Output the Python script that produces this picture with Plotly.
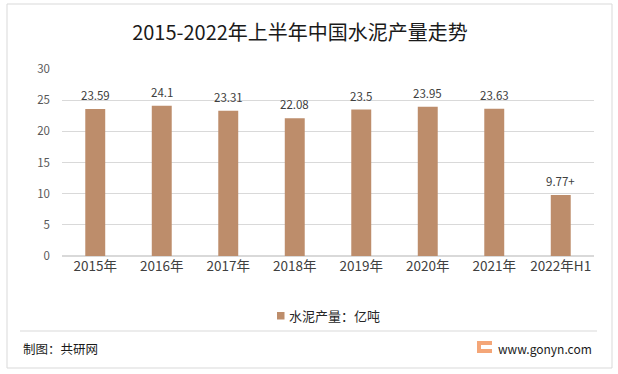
import plotly.graph_objects as go

categories = ["2015年", "2016年", "2017年", "2018年", "2019年", "2020年", "2021年", "2022年H1"]
values = [23.59, 24.1, 23.31, 22.08, 23.5, 23.95, 23.63, 9.77]
labels = ["23.59", "24.1", "23.31", "22.08", "23.5", "23.95", "23.63", "9.77+"]
series_name = "水泥产量：亿吨"
yticks = [0, 5, 10, 15, 20, 25, 30]

W, H = 618, 374
L, R, T, B = 62, 24, 69, 118
PW, PH = W - L - R, H - T - B
FONT = "Noto Sans CJK SC, sans-serif"
BAR = "#BD8D6B"


def px(x):
    return (x - L) / PW


def py(y):
    return (H - B - y) / PH


fig = go.Figure()
fig.add_trace(go.Bar(
    x=categories, y=values, name=series_name,
    marker=dict(color=BAR, line=dict(width=0)),
    width=0.3, showlegend=False,
))

for c, v, lab in zip(categories, values, labels):
    fig.add_annotation(x=c, y=v, text=lab, yshift=14, showarrow=False,
                       xanchor="center", yanchor="middle",
                       font=dict(size=11.5, color="#404040", family=FONT))

fig.update_layout(
    width=W, height=H,
    margin=dict(l=L, r=R, t=T, b=B),
    paper_bgcolor="white", plot_bgcolor="white",
    font=dict(family=FONT, color="#595959"),
    title=dict(text="2015-2022年上半年中国水泥产量走势", x=300 / W, xanchor="center",
               y=1 - 33 / H, yanchor="middle",
               font=dict(size=20, color="#1a1a1a", family=FONT)),
    showlegend=False,
    xaxis=dict(showgrid=False, showline=False, ticks="",
               tickfont=dict(size=13.5, color="#404040", family=FONT)),
    yaxis=dict(range=[0, 30], tickvals=yticks, showgrid=True, gridcolor="#D9D9D9",
               gridwidth=1, zeroline=True, zerolinecolor="#D9D9D9", showline=False,
               ticks="", ticklabelstandoff=11,
               tickfont=dict(size=11.5, color="#595959", family=FONT)),
)

# outer border
fig.add_shape(type="rect", xref="paper", yref="paper",
              x0=px(7), x1=px(612), y0=py(368), y1=py(4),
              line=dict(color="#D9D9D9", width=1), fillcolor="rgba(0,0,0,0)", layer="below")
# separator line
fig.add_shape(type="line", xref="paper", yref="paper",
              x0=px(20), x1=px(597), y0=py(331), y1=py(331),
              line=dict(color="#D9D9D9", width=1))

# legend (custom)
fig.add_shape(type="rect", xref="paper", yref="paper",
              x0=px(277), x1=px(284.5), y0=py(319.5), y1=py(312),
              line=dict(width=0), fillcolor=BAR)
fig.add_annotation(text=series_name, xref="paper", yref="paper",
                   x=px(287), y=py(315.5), xanchor="left", yanchor="middle",
                   showarrow=False, font=dict(size=13, color="#262626", family=FONT))

fig.add_annotation(text="制图：共研网", xref="paper", yref="paper",
                   x=px(21), y=py(348), xanchor="left", yanchor="middle",
                   showarrow=False, font=dict(size=12.5, color="#1a1a1a", family=FONT))
fig.add_annotation(text="www.gonyn.com", xref="paper", yref="paper",
                   x=px(594), y=py(348), xanchor="right", yanchor="middle",
                   showarrow=False, font=dict(size=12, color="#1a1a1a", family=FONT))
# logo
fig.add_shape(type="rect", xref="paper", yref="paper",
              x0=px(477), x1=px(492), y0=py(353), y1=py(341),
              line=dict(width=0), fillcolor="#F4A678")
fig.add_shape(type="rect", xref="paper", yref="paper",
              x0=px(481), x1=px(492), y0=py(349), y1=py(345),
              line=dict(width=0), fillcolor="#FFFFFF")

fig.write_html("out.html", config={"displayModeBar": False},
               post_script="document.body.style.margin='0';document.body.style.padding='0';")
